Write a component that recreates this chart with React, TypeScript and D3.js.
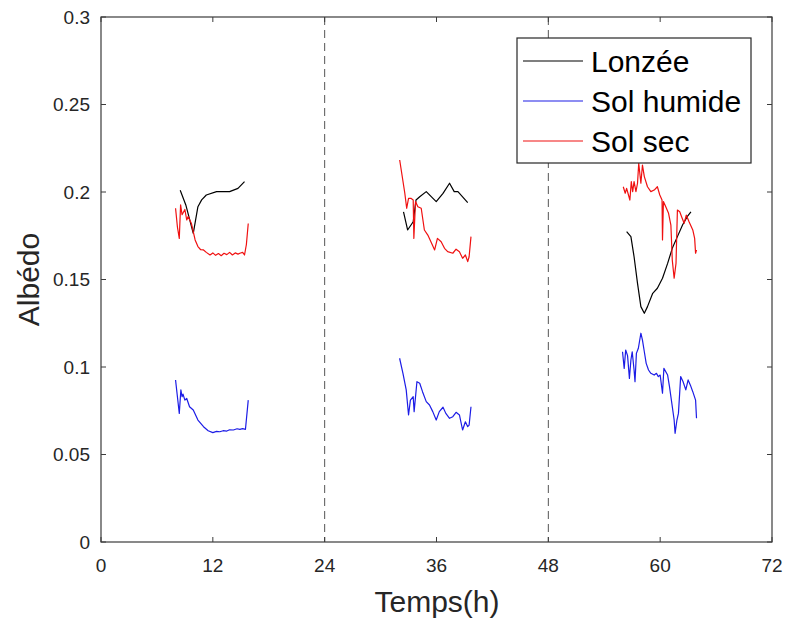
import React from "react";
import * as d3 from "d3";

// ---- data (time in hours, albedo) ----
const xTicks = [0, 12, 24, 36, 48, 60, 72];
const yTicks = [0, 0.05, 0.1, 0.15, 0.2, 0.25, 0.3];
const yTickLabels = ["0", "0.05", "0.1", "0.15", "0.2", "0.25", "0.3"];
const dayBoundaries = [24, 48];
const seriesNames = ["Lonzée", "Sol humide", "Sol sec"];
const seriesColors = ["#000000", "#1c1ce6", "#f01010"];

const lonzeeDay1: [number, number][] = [
  [8.5, 0.201], [9.1, 0.1926], [9.9, 0.1764], [10.4, 0.1916], [10.8, 0.1955], [11.3, 0.1983],
  [12.4, 0.2002], [13.8, 0.2002], [14.7, 0.2021], [15.4, 0.2059],
];
const lonzeeDay2: [number, number][] = [
  [32.46, 0.1887], [32.9, 0.1783], [33.5, 0.183], [33.8, 0.1954], [34.2, 0.1973], [34.9, 0.2002],
  [35.97, 0.1945], [36.7, 0.1992], [37.4, 0.205], [37.9, 0.2002], [38.3, 0.2002], [39.35, 0.1939],
];
const lonzeeDay3: [number, number][] = [
  [56.4, 0.1773], [56.86, 0.1745], [57.2, 0.163], [57.57, 0.1478], [57.93, 0.1345], [58.3, 0.1307],
  [58.64, 0.1345], [59.2, 0.1421], [59.7, 0.145], [60.25, 0.1507], [60.8, 0.1592], [61.3, 0.1678],
  [61.85, 0.1745], [62.4, 0.1811], [62.9, 0.1859], [63.3, 0.1887],
];

const humideDay1: [number, number][] = [
  [8.0, 0.0926], [8.2, 0.083], [8.4, 0.0735], [8.57, 0.0869], [8.7, 0.083], [8.8, 0.0845], [9.0, 0.0811],
  [9.2, 0.082], [9.5, 0.0773], [9.9, 0.0754], [10.4, 0.0697], [11.0, 0.0659], [11.5, 0.0636], [12.0, 0.0625],
  [12.4, 0.0632], [12.75, 0.063], [13.1, 0.0636], [13.5, 0.0634], [13.8, 0.0641], [14.2, 0.064],
  [14.6, 0.0647], [14.9, 0.0644], [15.2, 0.0648], [15.5, 0.0644], [15.8, 0.0811],
];
const humideDay2: [number, number][] = [
  [32.04, 0.105], [32.4, 0.0964], [32.75, 0.0869], [33.0, 0.0726], [33.2, 0.0811], [33.5, 0.083],
  [33.6, 0.0745], [33.9, 0.0916], [34.2, 0.0907], [34.5, 0.0859], [34.9, 0.0802], [35.25, 0.0783],
  [35.6, 0.0745], [35.97, 0.0697], [36.3, 0.0745], [36.7, 0.077], [37.0, 0.0735], [37.4, 0.0707],
  [37.75, 0.0716], [38.1, 0.0741], [38.46, 0.0726], [38.8, 0.064], [39.1, 0.0687], [39.35, 0.0659],
  [39.5, 0.0668], [39.7, 0.0773],
];
const humideDay3: [number, number][] = [
  [55.96, 0.1087], [56.14, 0.0992], [56.3, 0.1097], [56.5, 0.1065], [56.7, 0.0935], [56.86, 0.104],
  [57.0, 0.1087], [57.2, 0.0983], [57.3, 0.0916], [57.45, 0.1078], [57.66, 0.1107], [57.93, 0.1193],
  [58.1, 0.1154], [58.3, 0.1087], [58.5, 0.1021], [58.75, 0.0983], [59.0, 0.0964], [59.36, 0.0954],
  [59.6, 0.0964], [59.8, 0.0945], [60.0, 0.0954], [60.25, 0.085], [60.4, 0.0992], [60.8, 0.0954],
  [61.0, 0.0888], [61.25, 0.0793], [61.5, 0.0697], [61.6, 0.0621], [61.8, 0.0697], [61.96, 0.0735],
  [62.2, 0.0945], [62.46, 0.0916], [62.75, 0.0869], [63.0, 0.0926], [63.3, 0.0888], [63.5, 0.0859],
  [63.8, 0.0811], [63.9, 0.0707],
];

const secDay1: [number, number][] = [
  [8.0, 0.1907], [8.2, 0.18], [8.4, 0.1735], [8.54, 0.1926], [8.7, 0.187], [8.8, 0.188], [9.0, 0.19],
  [9.2, 0.184], [9.35, 0.186], [9.7, 0.182], [10.1, 0.1726], [10.4, 0.1688], [10.7, 0.167], [11.0, 0.1669],
  [11.3, 0.1655], [11.7, 0.164], [12.0, 0.1652], [12.3, 0.1638], [12.6, 0.1648], [12.9, 0.1636],
  [13.2, 0.165], [13.5, 0.1642], [13.8, 0.1655], [14.1, 0.164], [14.4, 0.1652], [14.7, 0.1645],
  [14.9, 0.165], [15.2, 0.1655], [15.4, 0.164], [15.6, 0.17], [15.8, 0.182],
];
const secDay2: [number, number][] = [
  [32.05, 0.2183], [32.6, 0.1993], [32.8, 0.1907], [33.0, 0.1964], [33.25, 0.1964], [33.5, 0.1954],
  [33.57, 0.1735], [33.75, 0.1945], [34.0, 0.1916], [34.36, 0.1907], [34.7, 0.1783], [35.07, 0.1754],
  [35.4, 0.1716], [35.8, 0.1669], [36.1, 0.1735], [36.5, 0.1716], [36.86, 0.1678], [37.2, 0.1659],
  [37.75, 0.165], [38.1, 0.1673], [38.46, 0.1659], [38.8, 0.1621], [39.1, 0.164], [39.35, 0.1602],
  [39.5, 0.163], [39.7, 0.1745],
];
const secDay3: [number, number][] = [
  [56.04, 0.203], [56.25, 0.1993], [56.4, 0.2021], [56.6, 0.1983], [56.75, 0.1954], [56.9, 0.2059],
  [57.05, 0.2002], [57.2, 0.2059], [57.4, 0.2002], [57.57, 0.205], [57.7, 0.2164], [57.93, 0.205],
  [58.1, 0.2154], [58.3, 0.2088], [58.64, 0.203], [59.0, 0.2002], [59.36, 0.2011], [59.7, 0.203],
  [59.96, 0.1983], [60.2, 0.1954], [60.25, 0.1726], [60.35, 0.1945], [60.6, 0.1916], [60.9, 0.1878],
  [61.15, 0.1811], [61.3, 0.1611], [61.5, 0.1507], [61.7, 0.1592], [61.85, 0.1897], [62.1, 0.1887],
  [62.3, 0.1859], [62.57, 0.1821], [62.8, 0.1868], [63.1, 0.183], [63.5, 0.1783], [63.7, 0.1735],
  [63.8, 0.165], [63.9, 0.1669],
];

const seriesSegments = [
  [lonzeeDay1, lonzeeDay2, lonzeeDay3],
  [humideDay1, humideDay2, humideDay3],
  [secDay1, secDay2, secDay3],
];

const W = 786;
const H = 619;
const M = { left: 101, right: 772, top: 17, bottom: 542 };
const FONT = "'Liberation Sans', Arial, Helvetica, sans-serif";
const AXIS = "#3b3b3b";
const TXT = "#262626";

export default function App() {
  const x = d3.scaleLinear().domain([0, 72]).range([M.left, M.right]);
  const y = d3.scaleLinear().domain([0, 0.3]).range([M.bottom, M.top]);
  const line = d3
    .line<[number, number]>()
    .x((d) => x(d[0]))
    .y((d) => y(d[1]));
  const tickLen = 5;

  const legend = { x: 517, y: 38, w: 234, h: 125 };
  const rowY = [61, 101, 141];

  return (
    <svg
      width={W}
      height={H}
      style={{ position: "absolute", left: 0, top: 0, background: "#fff" }}
      fontFamily={FONT}
    >
      <rect x={0} y={0} width={W} height={H} fill="#fff" />
      {/* dashed day boundaries */}
      {dayBoundaries.map((t) => (
        <line
          key={t}
          x1={x(t)}
          x2={x(t)}
          y1={M.top}
          y2={M.bottom}
          stroke="#555"
          strokeWidth={1}
          strokeDasharray="8,5"
        />
      ))}
      {/* series */}
      {seriesSegments.map((segs, i) =>
        segs.map((seg, j) => (
          <path
            key={`${i}-${j}`}
            d={line(seg) || ""}
            fill="none"
            stroke={seriesColors[i]}
            strokeWidth={1.2}
            strokeLinejoin="round"
          />
        ))
      )}
      {/* box */}
      <rect
        x={M.left}
        y={M.top}
        width={M.right - M.left}
        height={M.bottom - M.top}
        fill="none"
        stroke={AXIS}
        strokeWidth={1.2}
      />
      {/* x ticks */}
      {xTicks.map((t) => (
        <g key={t}>
          <line x1={x(t)} x2={x(t)} y1={M.bottom} y2={M.bottom - tickLen} stroke={AXIS} />
          <line x1={x(t)} x2={x(t)} y1={M.top} y2={M.top + tickLen} stroke={AXIS} />
          <text
            x={x(t)}
            y={M.bottom + 30}
            textAnchor="middle"
            fontSize={19}
            fill={TXT}
          >
            {t}
          </text>
        </g>
      ))}
      {/* y ticks */}
      {yTicks.map((v, i) => (
        <g key={v}>
          <line x1={M.left} x2={M.left + tickLen} y1={y(v)} y2={y(v)} stroke={AXIS} />
          <line x1={M.right} x2={M.right - tickLen} y1={y(v)} y2={y(v)} stroke={AXIS} />
          <text
            x={M.left - 11}
            y={y(v)}
            dy="0.36em"
            textAnchor="end"
            fontSize={19}
            fill={TXT}
          >
            {yTickLabels[i]}
          </text>
        </g>
      ))}
      {/* axis titles */}
      <text x={437} y={612} textAnchor="middle" fontSize={30} fill={TXT}>
        Temps(h)
      </text>
      <text
        transform={`translate(39, ${(M.top + M.bottom) / 2}) rotate(-90)`}
        textAnchor="middle"
        fontSize={30}
        fill={TXT}
      >
        Albédo
      </text>
      {/* legend */}
      <rect
        x={legend.x}
        y={legend.y}
        width={legend.w}
        height={legend.h}
        fill="#fff"
        stroke={TXT}
        strokeWidth={1.2}
      />
      {seriesNames.map((name, i) => (
        <g key={name}>
          <line
            x1={legend.x + 6}
            x2={legend.x + 66}
            y1={rowY[i]}
            y2={rowY[i]}
            stroke={seriesColors[i]}
            strokeWidth={1.2}
          />
          <text x={legend.x + 74} y={rowY[i]} dy="0.36em" fontSize={30} fill="#000">
            {name}
          </text>
        </g>
      ))}
    </svg>
  );
}
